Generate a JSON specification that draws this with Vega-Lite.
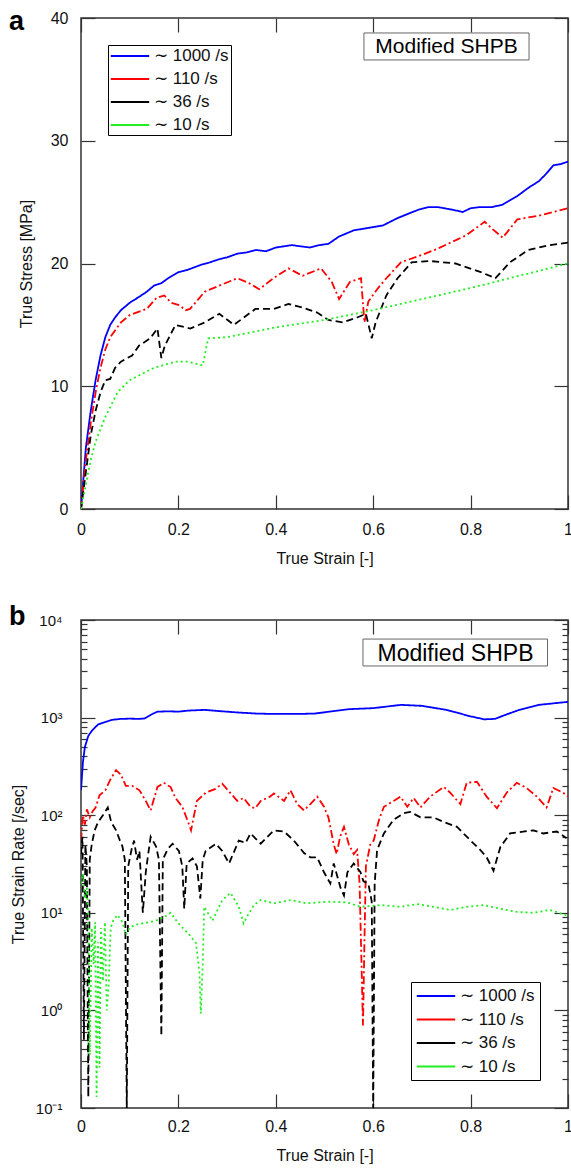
{
 "$schema": "https://vega.github.io/schema/vega-lite/v6.json",
 "background": "white",
 "padding": {"left": 8, "top": 7, "right": 4, "bottom": 0},
 "spacing": 35,
 "config": {
  "font": "Liberation Sans",
  "view": {"stroke": "#333", "strokeWidth": 1.5},
  "axis": {"domain": false, "grid": false, "tickColor": "#333", "tickWidth": 1.2, "labelFont": "Liberation Sans", "labelFontSize": 16, "labelColor": "#111", "labelFlush": false, "titleFont": "Liberation Sans", "titleFontSize": 16, "titleFontWeight": "normal", "titleColor": "#111"},
  "legend": {"labelFont": "Liberation Sans", "labelColor": "#111"}
 },
 "datasets": {
  "stress": [
   {"series":"1000","strain":0,"stress":0},{"series":"1000","strain":0.005,"stress":2.5},{"series":"1000","strain":0.01,"stress":5},{"series":"1000","strain":0.02,"stress":8},{"series":"1000","strain":0.03,"stress":10.5},{"series":"1000","strain":0.04,"stress":12.5},{"series":"1000","strain":0.05,"stress":14},{"series":"1000","strain":0.06,"stress":15},{"series":"1000","strain":0.07,"stress":15.6},{"series":"1000","strain":0.082,"stress":16.2},{"series":"1000","strain":0.1,"stress":16.8},{"series":"1000","strain":0.12,"stress":17.3},{"series":"1000","strain":0.135,"stress":17.7},{"series":"1000","strain":0.15,"stress":18.2},{"series":"1000","strain":0.165,"stress":18.4},{"series":"1000","strain":0.179,"stress":18.8},{"series":"1000","strain":0.2,"stress":19.3},{"series":"1000","strain":0.22,"stress":19.5},{"series":"1000","strain":0.247,"stress":19.9},{"series":"1000","strain":0.265,"stress":20.1},{"series":"1000","strain":0.28,"stress":20.3},{"series":"1000","strain":0.3,"stress":20.5},{"series":"1000","strain":0.321,"stress":20.8},{"series":"1000","strain":0.34,"stress":20.9},{"series":"1000","strain":0.36,"stress":21.1},{"series":"1000","strain":0.38,"stress":21.0},{"series":"1000","strain":0.4,"stress":21.3},{"series":"1000","strain":0.433,"stress":21.5},{"series":"1000","strain":0.45,"stress":21.4},{"series":"1000","strain":0.47,"stress":21.3},{"series":"1000","strain":0.49,"stress":21.5},{"series":"1000","strain":0.508,"stress":21.6},{"series":"1000","strain":0.53,"stress":22.2},{"series":"1000","strain":0.56,"stress":22.7},{"series":"1000","strain":0.59,"stress":22.9},{"series":"1000","strain":0.62,"stress":23.1},{"series":"1000","strain":0.65,"stress":23.7},{"series":"1000","strain":0.675,"stress":24.1},{"series":"1000","strain":0.694,"stress":24.4},{"series":"1000","strain":0.715,"stress":24.6},{"series":"1000","strain":0.732,"stress":24.6},{"series":"1000","strain":0.76,"stress":24.4},{"series":"1000","strain":0.784,"stress":24.2},{"series":"1000","strain":0.8,"stress":24.5},{"series":"1000","strain":0.82,"stress":24.6},{"series":"1000","strain":0.845,"stress":24.6},{"series":"1000","strain":0.866,"stress":24.8},{"series":"1000","strain":0.896,"stress":25.5},{"series":"1000","strain":0.92,"stress":26.2},{"series":"1000","strain":0.94,"stress":26.7},{"series":"1000","strain":0.955,"stress":27.3},{"series":"1000","strain":0.97,"stress":28.0},{"series":"1000","strain":0.985,"stress":28.1},{"series":"1000","strain":1.0,"stress":28.3},
   {"series":"110","strain":0,"stress":0},{"series":"110","strain":0.005,"stress":2},{"series":"110","strain":0.01,"stress":4},{"series":"110","strain":0.02,"stress":7},{"series":"110","strain":0.03,"stress":9.5},{"series":"110","strain":0.04,"stress":11.5},{"series":"110","strain":0.05,"stress":13},{"series":"110","strain":0.06,"stress":14},{"series":"110","strain":0.082,"stress":15.2},{"series":"110","strain":0.1,"stress":15.8},{"series":"110","strain":0.135,"stress":16.3},{"series":"110","strain":0.155,"stress":17.2},{"series":"110","strain":0.171,"stress":17.4},{"series":"110","strain":0.185,"stress":16.8},{"series":"110","strain":0.202,"stress":16.6},{"series":"110","strain":0.215,"stress":16.2},{"series":"110","strain":0.224,"stress":16.3},{"series":"110","strain":0.254,"stress":17.7},{"series":"110","strain":0.29,"stress":18.3},{"series":"110","strain":0.321,"stress":18.8},{"series":"110","strain":0.345,"stress":18.4},{"series":"110","strain":0.366,"stress":17.9},{"series":"110","strain":0.395,"stress":18.8},{"series":"110","strain":0.426,"stress":19.6},{"series":"110","strain":0.455,"stress":19.0},{"series":"110","strain":0.493,"stress":19.6},{"series":"110","strain":0.515,"stress":18.5},{"series":"110","strain":0.53,"stress":17.1},{"series":"110","strain":0.552,"stress":18.5},{"series":"110","strain":0.575,"stress":18.8},{"series":"110","strain":0.582,"stress":15.2},{"series":"110","strain":0.59,"stress":16.9},{"series":"110","strain":0.61,"stress":18},{"series":"110","strain":0.627,"stress":18.8},{"series":"110","strain":0.657,"stress":20.1},{"series":"110","strain":0.7,"stress":20.7},{"series":"110","strain":0.732,"stress":21.2},{"series":"110","strain":0.791,"stress":22.3},{"series":"110","strain":0.829,"stress":23.4},{"series":"110","strain":0.845,"stress":22.8},{"series":"110","strain":0.866,"stress":22.1},{"series":"110","strain":0.896,"stress":23.6},{"series":"110","strain":0.94,"stress":23.9},{"series":"110","strain":0.97,"stress":24.2},{"series":"110","strain":1.0,"stress":24.5},
   {"series":"36","strain":0,"stress":0},{"series":"36","strain":0.005,"stress":1.5},{"series":"36","strain":0.01,"stress":3},{"series":"36","strain":0.02,"stress":6},{"series":"36","strain":0.03,"stress":8},{"series":"36","strain":0.04,"stress":9.5},{"series":"36","strain":0.05,"stress":10.5},{"series":"36","strain":0.06,"stress":10.6},{"series":"36","strain":0.07,"stress":11.5},{"series":"36","strain":0.082,"stress":12},{"series":"36","strain":0.095,"stress":12.3},{"series":"36","strain":0.105,"stress":12.5},{"series":"36","strain":0.119,"stress":13.3},{"series":"36","strain":0.142,"stress":13.9},{"series":"36","strain":0.157,"stress":14.7},{"series":"36","strain":0.165,"stress":12.3},{"series":"36","strain":0.172,"stress":13.3},{"series":"36","strain":0.194,"stress":15.0},{"series":"36","strain":0.224,"stress":14.7},{"series":"36","strain":0.254,"stress":15.2},{"series":"36","strain":0.284,"stress":15.9},{"series":"36","strain":0.314,"stress":15.0},{"series":"36","strain":0.358,"stress":16.3},{"series":"36","strain":0.396,"stress":16.3},{"series":"36","strain":0.426,"stress":16.7},{"series":"36","strain":0.455,"stress":16.4},{"series":"36","strain":0.485,"stress":16.0},{"series":"36","strain":0.508,"stress":15.4},{"series":"36","strain":0.537,"stress":15.2},{"series":"36","strain":0.567,"stress":15.6},{"series":"36","strain":0.585,"stress":15.9},{"series":"36","strain":0.597,"stress":13.9},{"series":"36","strain":0.605,"stress":15.2},{"series":"36","strain":0.627,"stress":17.4},{"series":"36","strain":0.65,"stress":18.8},{"series":"36","strain":0.679,"stress":20.1},{"series":"36","strain":0.717,"stress":20.2},{"series":"36","strain":0.769,"stress":20.0},{"series":"36","strain":0.821,"stress":19.3},{"series":"36","strain":0.851,"stress":18.8},{"series":"36","strain":0.881,"stress":20.1},{"series":"36","strain":0.918,"stress":21.1},{"series":"36","strain":0.963,"stress":21.5},{"series":"36","strain":1.0,"stress":21.7},
   {"series":"10","strain":0,"stress":0},{"series":"10","strain":0.01,"stress":2},{"series":"10","strain":0.02,"stress":4},{"series":"10","strain":0.03,"stress":5.5},{"series":"10","strain":0.05,"stress":7.5},{"series":"10","strain":0.075,"stress":9.5},{"series":"10","strain":0.1,"stress":10.5},{"series":"10","strain":0.15,"stress":11.5},{"series":"10","strain":0.194,"stress":12.0},{"series":"10","strain":0.22,"stress":12.0},{"series":"10","strain":0.25,"stress":11.7},{"series":"10","strain":0.261,"stress":13.9},{"series":"10","strain":0.3,"stress":14.0},{"series":"10","strain":0.4,"stress":14.8},{"series":"10","strain":0.5,"stress":15.4},{"series":"10","strain":0.6,"stress":16.2},{"series":"10","strain":0.7,"stress":17.1},{"series":"10","strain":0.8,"stress":18.0},{"series":"10","strain":0.9,"stress":19.0},{"series":"10","strain":1.0,"stress":20.0}
  ],
  "rate": [
   {"series":"1000","strain":0,"rate":180},{"series":"1000","strain":0.004,"rate":350},{"series":"1000","strain":0.008,"rate":500},{"series":"1000","strain":0.015,"rate":650},{"series":"1000","strain":0.023,"rate":740},{"series":"1000","strain":0.035,"rate":850},{"series":"1000","strain":0.052,"rate":910},{"series":"1000","strain":0.065,"rate":950},{"series":"1000","strain":0.082,"rate":970},{"series":"1000","strain":0.1,"rate":975},{"series":"1000","strain":0.12,"rate":970},{"series":"1000","strain":0.131,"rate":980},{"series":"1000","strain":0.145,"rate":1080},{"series":"1000","strain":0.157,"rate":1150},{"series":"1000","strain":0.18,"rate":1160},{"series":"1000","strain":0.2,"rate":1150},{"series":"1000","strain":0.22,"rate":1180},{"series":"1000","strain":0.254,"rate":1200},{"series":"1000","strain":0.28,"rate":1170},{"series":"1000","strain":0.32,"rate":1130},{"series":"1000","strain":0.36,"rate":1100},{"series":"1000","strain":0.396,"rate":1090},{"series":"1000","strain":0.447,"rate":1090},{"series":"1000","strain":0.48,"rate":1100},{"series":"1000","strain":0.51,"rate":1150},{"series":"1000","strain":0.55,"rate":1220},{"series":"1000","strain":0.6,"rate":1250},{"series":"1000","strain":0.657,"rate":1350},{"series":"1000","strain":0.7,"rate":1320},{"series":"1000","strain":0.75,"rate":1200},{"series":"1000","strain":0.8,"rate":1030},{"series":"1000","strain":0.828,"rate":960},{"series":"1000","strain":0.85,"rate":970},{"series":"1000","strain":0.87,"rate":1060},{"series":"1000","strain":0.9,"rate":1200},{"series":"1000","strain":0.94,"rate":1350},{"series":"1000","strain":1.0,"rate":1450},
   {"series":"110","strain":0,"rate":55},{"series":"110","strain":0.004,"rate":100},{"series":"110","strain":0.008,"rate":80},{"series":"110","strain":0.012,"rate":115},{"series":"110","strain":0.018,"rate":95},{"series":"110","strain":0.024,"rate":110},{"series":"110","strain":0.03,"rate":120},{"series":"110","strain":0.038,"rate":160},{"series":"110","strain":0.05,"rate":180},{"series":"110","strain":0.06,"rate":230},{"series":"110","strain":0.072,"rate":290},{"series":"110","strain":0.082,"rate":260},{"series":"110","strain":0.092,"rate":200},{"series":"110","strain":0.105,"rate":200},{"series":"110","strain":0.12,"rate":180},{"series":"110","strain":0.133,"rate":140},{"series":"110","strain":0.143,"rate":112},{"series":"110","strain":0.157,"rate":195},{"series":"110","strain":0.17,"rate":215},{"series":"110","strain":0.184,"rate":194},{"series":"110","strain":0.194,"rate":150},{"series":"110","strain":0.208,"rate":122},{"series":"110","strain":0.222,"rate":80},{"series":"110","strain":0.226,"rate":70},{"series":"110","strain":0.238,"rate":140},{"series":"110","strain":0.256,"rate":170},{"series":"110","strain":0.275,"rate":185},{"series":"110","strain":0.29,"rate":210},{"series":"110","strain":0.304,"rate":175},{"series":"110","strain":0.321,"rate":140},{"series":"110","strain":0.334,"rate":150},{"series":"110","strain":0.348,"rate":122},{"series":"110","strain":0.358,"rate":118},{"series":"110","strain":0.369,"rate":140},{"series":"110","strain":0.388,"rate":155},{"series":"110","strain":0.396,"rate":167},{"series":"110","strain":0.417,"rate":140},{"series":"110","strain":0.43,"rate":180},{"series":"110","strain":0.444,"rate":130},{"series":"110","strain":0.458,"rate":112},{"series":"110","strain":0.471,"rate":130},{"series":"110","strain":0.485,"rate":155},{"series":"110","strain":0.499,"rate":122},{"series":"110","strain":0.508,"rate":95},{"series":"110","strain":0.512,"rate":76},{"series":"110","strain":0.519,"rate":50},{"series":"110","strain":0.525,"rate":40},{"series":"110","strain":0.532,"rate":60},{"series":"110","strain":0.54,"rate":76},{"series":"110","strain":0.55,"rate":50},{"series":"110","strain":0.56,"rate":40},{"series":"110","strain":0.567,"rate":44},{"series":"110","strain":0.572,"rate":20},{"series":"110","strain":0.576,"rate":3},{"series":"110","strain":0.579,"rate":0.7},{"series":"110","strain":0.582,"rate":5},{"series":"110","strain":0.585,"rate":30},{"series":"110","strain":0.594,"rate":50},{"series":"110","strain":0.601,"rate":55},{"series":"110","strain":0.612,"rate":90},{"series":"110","strain":0.622,"rate":122},{"series":"110","strain":0.642,"rate":140},{"series":"110","strain":0.656,"rate":155},{"series":"110","strain":0.67,"rate":122},{"series":"110","strain":0.683,"rate":150},{"series":"110","strain":0.697,"rate":120},{"series":"110","strain":0.717,"rate":155},{"series":"110","strain":0.745,"rate":195},{"series":"110","strain":0.758,"rate":170},{"series":"110","strain":0.779,"rate":130},{"series":"110","strain":0.792,"rate":215},{"series":"110","strain":0.813,"rate":220},{"series":"110","strain":0.833,"rate":155},{"series":"110","strain":0.854,"rate":118},{"series":"110","strain":0.874,"rate":170},{"series":"110","strain":0.895,"rate":215},{"series":"110","strain":0.915,"rate":190},{"series":"110","strain":0.936,"rate":155},{"series":"110","strain":0.956,"rate":120},{"series":"110","strain":0.97,"rate":190},{"series":"110","strain":0.99,"rate":170},{"series":"110","strain":1.0,"rate":155},
   {"series":"36","strain":0,"rate":40},{"series":"36","strain":0.003,"rate":60},{"series":"36","strain":0.006,"rate":0.5},{"series":"36","strain":0.009,"rate":50},{"series":"36","strain":0.012,"rate":30},{"series":"36","strain":0.015,"rate":0.13},{"series":"36","strain":0.018,"rate":35},{"series":"36","strain":0.022,"rate":50},{"series":"36","strain":0.028,"rate":70},{"series":"36","strain":0.035,"rate":85},{"series":"36","strain":0.045,"rate":100},{"series":"36","strain":0.055,"rate":120},{"series":"36","strain":0.062,"rate":85},{"series":"36","strain":0.072,"rate":70},{"series":"36","strain":0.08,"rate":55},{"series":"36","strain":0.085,"rate":48},{"series":"36","strain":0.09,"rate":35},{"series":"36","strain":0.094,"rate":0.1},{"series":"36","strain":0.097,"rate":30},{"series":"36","strain":0.104,"rate":45},{"series":"36","strain":0.109,"rate":55},{"series":"36","strain":0.115,"rate":35},{"series":"36","strain":0.12,"rate":43},{"series":"36","strain":0.127,"rate":10},{"series":"36","strain":0.133,"rate":26},{"series":"36","strain":0.138,"rate":40},{"series":"36","strain":0.143,"rate":60},{"series":"36","strain":0.154,"rate":48},{"series":"36","strain":0.16,"rate":35},{"series":"36","strain":0.165,"rate":0.55},{"series":"36","strain":0.168,"rate":35},{"series":"36","strain":0.178,"rate":45},{"series":"36","strain":0.188,"rate":51},{"series":"36","strain":0.201,"rate":43},{"series":"36","strain":0.208,"rate":30},{"series":"36","strain":0.212,"rate":11},{"series":"36","strain":0.217,"rate":32},{"series":"36","strain":0.229,"rate":36},{"series":"36","strain":0.238,"rate":30},{"series":"36","strain":0.245,"rate":14},{"series":"36","strain":0.25,"rate":35},{"series":"36","strain":0.256,"rate":43},{"series":"36","strain":0.277,"rate":51},{"series":"36","strain":0.29,"rate":43},{"series":"36","strain":0.304,"rate":32},{"series":"36","strain":0.324,"rate":55},{"series":"36","strain":0.338,"rate":52},{"series":"36","strain":0.348,"rate":65},{"series":"36","strain":0.369,"rate":51},{"series":"36","strain":0.396,"rate":70},{"series":"36","strain":0.417,"rate":68},{"series":"36","strain":0.437,"rate":55},{"series":"36","strain":0.458,"rate":41},{"series":"36","strain":0.471,"rate":37},{"series":"36","strain":0.485,"rate":37},{"series":"36","strain":0.499,"rate":26},{"series":"36","strain":0.512,"rate":20},{"series":"36","strain":0.519,"rate":32},{"series":"36","strain":0.533,"rate":18},{"series":"36","strain":0.54,"rate":15},{"series":"36","strain":0.547,"rate":26},{"series":"36","strain":0.56,"rate":32},{"series":"36","strain":0.574,"rate":26},{"series":"36","strain":0.58,"rate":21},{"series":"36","strain":0.59,"rate":20},{"series":"36","strain":0.597,"rate":13},{"series":"36","strain":0.6,"rate":0.1},{"series":"36","strain":0.603,"rate":20},{"series":"36","strain":0.608,"rate":44},{"series":"36","strain":0.622,"rate":65},{"series":"36","strain":0.642,"rate":90},{"series":"36","strain":0.663,"rate":105},{"series":"36","strain":0.676,"rate":108},{"series":"36","strain":0.697,"rate":95},{"series":"36","strain":0.724,"rate":95},{"series":"36","strain":0.745,"rate":85},{"series":"36","strain":0.772,"rate":76},{"series":"36","strain":0.8,"rate":55},{"series":"36","strain":0.82,"rate":44},{"series":"36","strain":0.833,"rate":37},{"series":"36","strain":0.847,"rate":27},{"series":"36","strain":0.861,"rate":47},{"series":"36","strain":0.881,"rate":65},{"series":"36","strain":0.908,"rate":68},{"series":"36","strain":0.929,"rate":70},{"series":"36","strain":0.949,"rate":65},{"series":"36","strain":0.977,"rate":68},{"series":"36","strain":0.997,"rate":58},
   {"series":"10","strain":0,"rate":20},{"series":"10","strain":0.004,"rate":25},{"series":"10","strain":0.008,"rate":14},{"series":"10","strain":0.012,"rate":18},{"series":"10","strain":0.015,"rate":9},{"series":"10","strain":0.018,"rate":0.35},{"series":"10","strain":0.022,"rate":7},{"series":"10","strain":0.026,"rate":3},{"series":"10","strain":0.029,"rate":8},{"series":"10","strain":0.032,"rate":0.13},{"series":"10","strain":0.035,"rate":5},{"series":"10","strain":0.038,"rate":0.26},{"series":"10","strain":0.041,"rate":7},{"series":"10","strain":0.045,"rate":2},{"series":"10","strain":0.049,"rate":8},{"series":"10","strain":0.053,"rate":1},{"series":"10","strain":0.057,"rate":1.9},{"series":"10","strain":0.061,"rate":7},{"series":"10","strain":0.066,"rate":8.3},{"series":"10","strain":0.075,"rate":9.5},{"series":"10","strain":0.085,"rate":8},{"series":"10","strain":0.092,"rate":6},{"series":"10","strain":0.1,"rate":7},{"series":"10","strain":0.11,"rate":7.5},{"series":"10","strain":0.126,"rate":7.8},{"series":"10","strain":0.14,"rate":8},{"series":"10","strain":0.154,"rate":8.3},{"series":"10","strain":0.17,"rate":9},{"series":"10","strain":0.184,"rate":10},{"series":"10","strain":0.2,"rate":7.8},{"series":"10","strain":0.222,"rate":6},{"series":"10","strain":0.236,"rate":4.9},{"series":"10","strain":0.243,"rate":2.5},{"series":"10","strain":0.246,"rate":0.93},{"series":"10","strain":0.25,"rate":3},{"series":"10","strain":0.253,"rate":11.5},{"series":"10","strain":0.27,"rate":8.3},{"series":"10","strain":0.29,"rate":13.5},{"series":"10","strain":0.307,"rate":16},{"series":"10","strain":0.318,"rate":13},{"series":"10","strain":0.324,"rate":11.5},{"series":"10","strain":0.334,"rate":7.8},{"series":"10","strain":0.34,"rate":9},{"series":"10","strain":0.355,"rate":12},{"series":"10","strain":0.369,"rate":13.5},{"series":"10","strain":0.396,"rate":12.5},{"series":"10","strain":0.43,"rate":13.5},{"series":"10","strain":0.464,"rate":12.5},{"series":"10","strain":0.505,"rate":13},{"series":"10","strain":0.546,"rate":12.8},{"series":"10","strain":0.574,"rate":11.5},{"series":"10","strain":0.615,"rate":12},{"series":"10","strain":0.656,"rate":11.5},{"series":"10","strain":0.69,"rate":12.3},{"series":"10","strain":0.724,"rate":11.5},{"series":"10","strain":0.758,"rate":10.7},{"series":"10","strain":0.792,"rate":11.5},{"series":"10","strain":0.826,"rate":12},{"series":"10","strain":0.861,"rate":11},{"series":"10","strain":0.895,"rate":10.2},{"series":"10","strain":0.929,"rate":10},{"series":"10","strain":0.963,"rate":10.7},{"series":"10","strain":0.997,"rate":9.4}
  ]
 },
 "vconcat": [
  {
   "width": 487, "height": 491,
   "title": {"text": "a", "anchor": "start", "frame": "group", "fontSize": 27, "fontWeight": "bold", "font": "Liberation Sans", "color": "#000", "dx": -72, "dy": 11, "offset": -36, "baseline": "alphabetic"},
   "data": {"name": "stress"},
   "layer": [
    {
     "mark": {"type": "line", "strokeWidth": 1.8, "clip": true},
     "encoding": {
      "x": {"field": "strain", "type": "quantitative", "scale": {"domain": [0, 1], "nice": false},
            "axis": {"orient": "bottom", "values": [0, 0.2, 0.4, 0.6, 0.8, 1], "format": ".1~f", "tickSize": -14, "labelPadding": 26, "title": "True Strain  [-]", "titlePadding": 13}},
      "y": {"field": "stress", "type": "quantitative", "scale": {"domain": [0, 40], "nice": false},
            "axis": {"orient": "left", "values": [0, 10, 20, 30, 40], "tickSize": -14, "labelPadding": 27, "title": "True Stress  [MPa]", "titlePadding": 16}},
      "color": {"field": "series", "type": "nominal", "scale": {"domain": ["1000", "110", "36", "10"], "range": ["#0000ff", "#ff0000", "#000000", "#22ee22"]},
                "legend": {"orient": "top-left", "offset": 27, "title": null, "symbolType": "M-2.4,0L2.4,0", "symbolStrokeWidth": 2, "symbolSize": 256, "symbolOffset": 11, "labelOffset": 15, "labelFontSize": 17, "labelExpr": "'∼ ' + datum.label + ' /s'", "strokeColor": "#000", "fillColor": "white", "padding": 2, "rowPadding": 6}},
      "strokeDash": {"field": "series", "type": "nominal", "scale": {"domain": ["1000", "110", "36", "10"], "range": [[1, 0], [8, 3, 2, 3], [7, 4], [2, 3]]}}
     }
    },
    {
     "mark": {"type": "point", "opacity": 0},
     "encoding": {
      "x": {"field": "strain", "type": "quantitative", "axis": {"orient": "top", "values": [0, 0.2, 0.4, 0.6, 0.8, 1], "tickSize": -14, "labels": false, "title": null}},
      "y": {"field": "stress", "type": "quantitative", "axis": {"orient": "right", "values": [0, 10, 20, 30, 40], "tickSize": -14, "labels": false, "title": null}}
     }
    },
    {
     "data": {"values": [{}]},
     "mark": {"type": "rect", "fill": "white", "stroke": "#666", "strokeWidth": 1},
     "encoding": {
      "x": {"datum": 0.581, "type": "quantitative", "axis": null}, "x2": {"datum": 0.92},
      "y": {"datum": 38.78, "type": "quantitative", "axis": null}, "y2": {"datum": 36.58}
     }
    },
    {
     "data": {"values": [{}]},
     "mark": {"type": "text", "text": "Modified  SHPB", "fontSize": 21, "font": "Liberation Sans", "color": "#000", "baseline": "middle", "dy": 1},
     "encoding": {
      "x": {"datum": 0.7505, "type": "quantitative", "axis": null},
      "y": {"datum": 37.68, "type": "quantitative", "axis": null}
     }
    }
   ],
   "resolve": {"axis": {"x": "independent", "y": "independent"}}
  },
  {
   "width": 487, "height": 488,
   "title": {"text": "b", "anchor": "start", "frame": "group", "fontSize": 27, "fontWeight": "bold", "font": "Liberation Sans", "color": "#000", "dx": -72, "dy": 6, "offset": -33, "baseline": "alphabetic"},
   "data": {"name": "rate"},
   "layer": [
    {
     "mark": {"type": "line", "strokeWidth": 1.8, "clip": true},
     "encoding": {
      "x": {"field": "strain", "type": "quantitative", "scale": {"domain": [0, 1], "nice": false},
            "axis": {"orient": "bottom", "values": [0, 0.2, 0.4, 0.6, 0.8, 1], "format": ".1~f", "tickSize": -14, "labelPadding": 24, "title": "True Strain  [-]", "titlePadding": 13}},
      "y": {"field": "rate", "type": "quantitative", "scale": {"type": "log", "domain": [0.1, 10000], "nice": false},
            "axis": {"orient": "left", "values": [0.1,0.2,0.3,0.4,0.5,0.6,0.7,0.8,0.9,1,2,3,4,5,6,7,8,9,10,20,30,40,50,60,70,80,90,100,200,300,400,500,600,700,800,900,1000,2000,3000,4000,5000,6000,7000,8000,9000,10000],
                     "labelExpr": "datum.value == 0.1 ? '10⁻¹' : datum.value == 1 ? '10⁰' : datum.value == 10 ? '10¹' : datum.value == 100 ? '10²' : datum.value == 1000 ? '10³' : datum.value == 10000 ? '10⁴' : ''",
                     "tickSize": {"condition": {"test": "datum.value == 0.1 || datum.value == 1 || datum.value == 10 || datum.value == 100 || datum.value == 1000 || datum.value == 10000", "value": -14}, "value": -6},
                     "labelPadding": 33, "labelFontSize": 15, "labelBound": false, "labelOverlap": false, "title": "True Strain Rate  [/sec]", "titlePadding": 9}},
      "color": {"field": "series", "type": "nominal", "scale": {"domain": ["1000", "110", "36", "10"], "range": ["#0000ff", "#ff0000", "#000000", "#22ee22"]},
                "legend": {"orient": "bottom-right", "offset": 28, "title": null, "symbolType": "M-2.4,0L2.4,0", "symbolStrokeWidth": 2, "symbolSize": 256, "symbolOffset": 11, "labelOffset": 15, "labelFontSize": 17, "labelExpr": "'∼ ' + datum.label + ' /s'", "strokeColor": "#000", "fillColor": "white", "padding": 5, "rowPadding": 6.5}},
      "strokeDash": {"field": "series", "type": "nominal", "scale": {"domain": ["1000", "110", "36", "10"], "range": [[1, 0], [8, 3, 2, 3], [7, 4], [2, 3]]}}
     }
    },
    {
     "mark": {"type": "point", "opacity": 0},
     "encoding": {
      "x": {"field": "strain", "type": "quantitative", "axis": {"orient": "top", "values": [0, 0.2, 0.4, 0.6, 0.8, 1], "tickSize": -14, "labels": false, "title": null}},
      "y": {"field": "rate", "type": "quantitative", "axis": {"orient": "right", "values": [0.1,0.2,0.3,0.4,0.5,0.6,0.7,0.8,0.9,1,2,3,4,5,6,7,8,9,10,20,30,40,50,60,70,80,90,100,200,300,400,500,600,700,800,900,1000,2000,3000,4000,5000,6000,7000,8000,9000,10000],
                "tickSize": {"condition": {"test": "datum.value == 0.1 || datum.value == 1 || datum.value == 10 || datum.value == 100 || datum.value == 1000 || datum.value == 10000", "value": -14}, "value": -6}, "labels": false, "title": null}}
     }
    },
    {
     "data": {"values": [{}]},
     "mark": {"type": "rect", "fill": "white", "stroke": "#666", "strokeWidth": 1},
     "encoding": {
      "x": {"datum": 0.579, "type": "quantitative", "axis": null}, "x2": {"datum": 0.958},
      "y": {"datum": 6380, "type": "quantitative", "axis": null}, "y2": {"datum": 3380}
     }
    },
    {
     "data": {"values": [{}]},
     "mark": {"type": "text", "text": "Modified  SHPB", "fontSize": 23, "font": "Liberation Sans", "color": "#000", "baseline": "middle", "dy": 1},
     "encoding": {
      "x": {"datum": 0.769, "type": "quantitative", "axis": null},
      "y": {"datum": 4645, "type": "quantitative", "axis": null}
     }
    }
   ],
   "resolve": {"axis": {"x": "independent", "y": "independent"}}
  }
 ]
}
